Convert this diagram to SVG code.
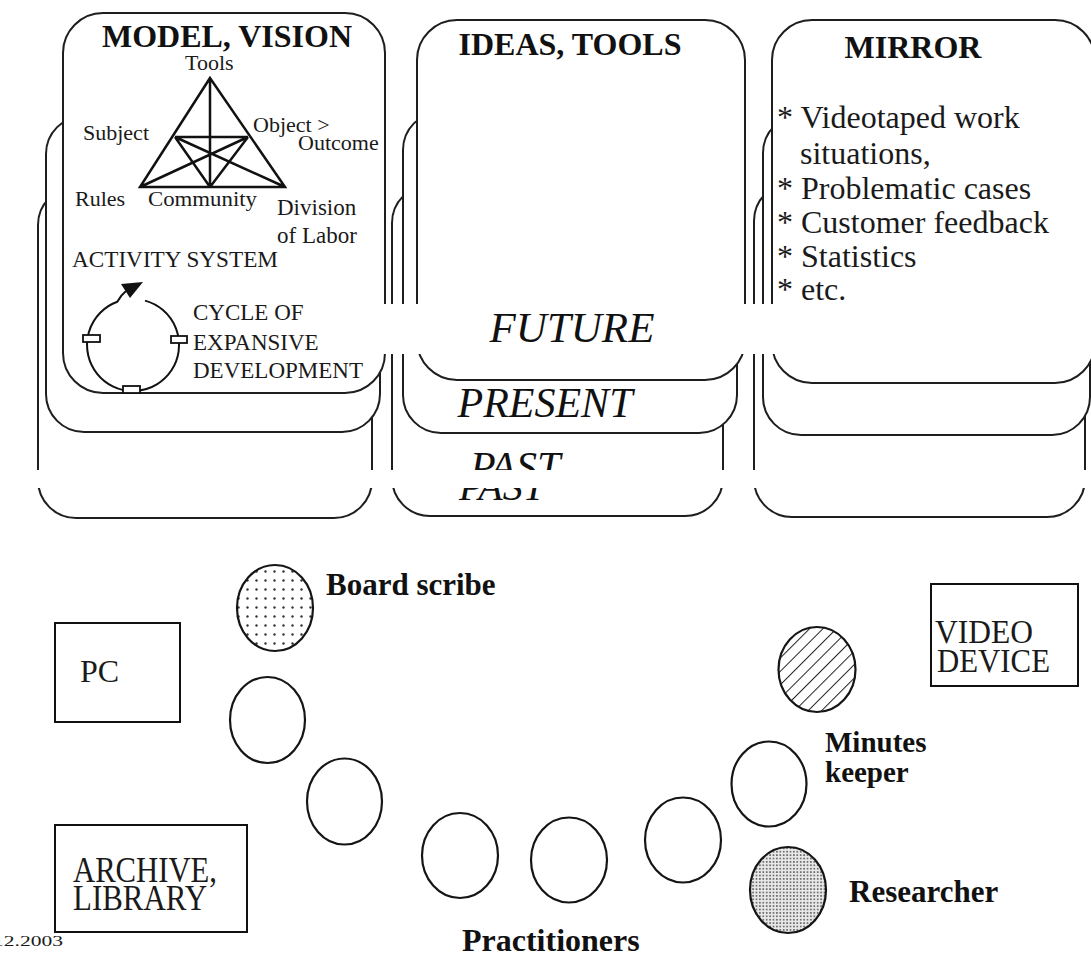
<svg xmlns="http://www.w3.org/2000/svg" width="1091" height="958" viewBox="0 0 1091 958">
<defs>
<style>
.box{fill:#fff;stroke:#1e1e1e;stroke-width:2}
.hd{font-family:"Liberation Serif",serif;font-weight:bold;font-size:32px;fill:#111;text-anchor:middle}
.tx{font-family:"Liberation Serif",serif;fill:#1a1a1a}
.it{font-family:"Liberation Serif",serif;font-style:italic;fill:#111}
.lb{font-family:"Liberation Serif",serif;font-weight:bold;fill:#111}
.seat{stroke:#151515;stroke-width:2.2}
.ln{stroke:#111;stroke-width:2.5;fill:none}
.band{fill:#fff}
</style>
<pattern id="dots" width="9" height="9" patternUnits="userSpaceOnUse"><rect width="9" height="9" fill="#fff"/><circle cx="4.5" cy="4.5" r="1.2" fill="#333"/></pattern>
<pattern id="fine" width="3.4" height="3.4" patternUnits="userSpaceOnUse"><rect width="3.4" height="3.4" fill="#e8e8e8"/><circle cx="1.7" cy="1.7" r="0.95" fill="#555"/></pattern>
<pattern id="hatch" width="9.5" height="9.5" patternUnits="userSpaceOnUse" patternTransform="rotate(45)"><rect width="9.5" height="9.5" fill="#fff"/><line x1="0" y1="0" x2="0" y2="9.5" stroke="#222" stroke-width="2"/></pattern>
<clipPath id="pastLow"><rect x="0" y="488" width="1091" height="40"/></clipPath>
</defs>

<g id="column-model">
  <rect class="box" x="38" y="187" width="334" height="331" rx="38"/>
  <rect class="box" x="46" y="116" width="334" height="316" rx="38"/>
  <rect class="box" x="63" y="13" width="322" height="380" rx="40"/>
</g>
<g id="column-ideas">
  <rect class="box" x="392" y="185" width="331" height="331" rx="38"/>
  <rect class="box" x="403" y="112" width="334" height="321" rx="38"/>
  <rect class="box" x="417" y="20" width="328" height="360" rx="40"/>
</g>
<g id="column-mirror">
  <rect class="box" x="754" y="183" width="331" height="334" rx="38"/>
  <rect class="box" x="763" y="115" width="327" height="320" rx="38"/>
  <rect class="box" x="772" y="20" width="323" height="363" rx="40"/>
</g>

<rect id="band-future" class="band" x="366" y="304" width="725" height="50"/>

<g id="model-content">
  <text class="hd" x="227" y="47">MODEL, VISION</text>
  <g id="activity-triangle">
    <path class="ln" d="M210,78 L140,187 L285,187 Z M210,78 L210,187 M175,137 L248,137 M175,137 L210,187 M175,137 L285,187 M248,137 L140,187 M248,137 L210,187"/>
  </g>
  <g class="tx" font-size="22">
    <text x="185" y="70">Tools</text>
    <text x="83" y="140">Subject</text>
    <text x="253" y="132">Object &gt;</text>
    <text x="298" y="150">Outcome</text>
    <text x="75" y="206">Rules</text>
    <text x="148" y="206" textLength="109" lengthAdjust="spacingAndGlyphs">Community</text>
    <text x="277" y="215" font-size="23">Division</text>
    <text x="277" y="243" font-size="23">of Labor</text>
  </g>
  <g class="tx" font-size="23">
    <text x="72" y="267" textLength="206" lengthAdjust="spacingAndGlyphs">ACTIVITY SYSTEM</text>
    <text x="193" y="320">CYCLE OF</text>
    <text x="193" y="350">EXPANSIVE</text>
    <text x="193" y="378" textLength="170" lengthAdjust="spacingAndGlyphs">DEVELOPMENT</text>
  </g>
</g>

<g id="connectors">
  <g id="cycle-arrow">
    <path d="M145,300.6 A46,46 0 1 1 117.3,301.8 Q121,295 126,291" fill="none" stroke="#111" stroke-width="2"/>
    <polygon points="143,282 121,284 130,298" fill="#111"/>
  </g>
</g>
<g id="cycle-markers" fill="#fff" stroke="#111" stroke-width="1.8">
  <rect x="83" y="335" width="17" height="7"/>
  <rect x="171" y="336" width="16" height="7"/>
  <rect x="123" y="386" width="17" height="7"/>
</g>

<g id="ideas-content">
  <text class="hd" x="570" y="55">IDEAS, TOOLS</text>
</g>

<g id="mirror-content">
  <text class="hd" x="913" y="58">MIRROR</text>
  <g class="tx" font-size="32">
    <text x="777" y="128">* Videotaped work</text>
    <text x="800" y="164">situations,</text>
    <text x="777" y="199">* Problematic cases</text>
    <text x="777" y="233">* Customer feedback</text>
    <text x="777" y="267">* Statistics</text>
    <text x="777" y="300">* etc.</text>
  </g>
</g>

<g id="time-labels">
  <text class="it" x="572" y="342" font-size="43" text-anchor="middle">FUTURE</text>
  <text class="it" x="545" y="417" font-size="42" text-anchor="middle">PRESENT</text>
  <text class="it" x="470" y="481" font-size="42">PAST</text>
</g>

<rect id="band-past" class="band" x="0" y="470" width="1091" height="18"/>
<text class="it" x="459" y="500" font-size="40" clip-path="url(#pastLow)">PAST</text>

<g id="pc">
  <rect x="55" y="623" width="125" height="99" fill="#fff" stroke="#111" stroke-width="2"/>
  <text class="tx" x="80" y="682" font-size="32">PC</text>
</g>
<g id="archive">
  <rect x="55" y="825" width="192" height="107" fill="#fff" stroke="#111" stroke-width="2"/>
  <text class="tx" x="73" y="882" font-size="36" textLength="144" lengthAdjust="spacingAndGlyphs">ARCHIVE,</text>
  <text class="tx" x="73" y="910" font-size="36" textLength="134" lengthAdjust="spacingAndGlyphs">LIBRARY</text>
</g>
<g id="video-device">
  <rect x="931" y="584" width="147" height="102" fill="#fff" stroke="#111" stroke-width="2"/>
  <text class="tx" x="935" y="643" font-size="34" textLength="98" lengthAdjust="spacingAndGlyphs">VIDEO</text>
  <text class="tx" x="937" y="672" font-size="34" textLength="113" lengthAdjust="spacingAndGlyphs">DEVICE</text>
</g>
<text id="date" class="tx" x="-7" y="946" font-size="15" textLength="70" lengthAdjust="spacingAndGlyphs">12.2003</text>

<g id="board-scribe">
  <ellipse class="seat" cx="275" cy="608" rx="38" ry="43" fill="url(#dots)"/>
  <text class="lb" x="326" y="595" font-size="31">Board scribe</text>
</g>
<g id="practitioners">
  <ellipse class="seat" cx="267.5" cy="720" rx="37.5" ry="43" fill="#fff"/>
  <ellipse class="seat" cx="344.5" cy="801.5" rx="37.5" ry="43" fill="#fff"/>
  <ellipse class="seat" cx="460" cy="855.5" rx="38" ry="42.5" fill="#fff"/>
  <ellipse class="seat" cx="569" cy="860" rx="38" ry="42.5" fill="#fff"/>
  <ellipse class="seat" cx="683" cy="840" rx="38" ry="42.5" fill="#fff"/>
  <text class="lb" x="462" y="951" font-size="32">Practitioners</text>
</g>
<g id="minutes-keeper">
  <ellipse class="seat" cx="769" cy="784" rx="37.5" ry="42.5" fill="#fff"/>
  <text class="lb" x="825" y="752" font-size="29">Minutes</text>
  <text class="lb" x="825" y="782" font-size="29">keeper</text>
</g>
<g id="video-operator">
  <ellipse class="seat" cx="817" cy="669.5" rx="38.5" ry="42.5" fill="url(#hatch)"/>
</g>
<g id="researcher">
  <ellipse class="seat" cx="788" cy="890" rx="38" ry="43" fill="url(#fine)"/>
  <text class="lb" x="849" y="902" font-size="31">Researcher</text>
</g>
</svg>
